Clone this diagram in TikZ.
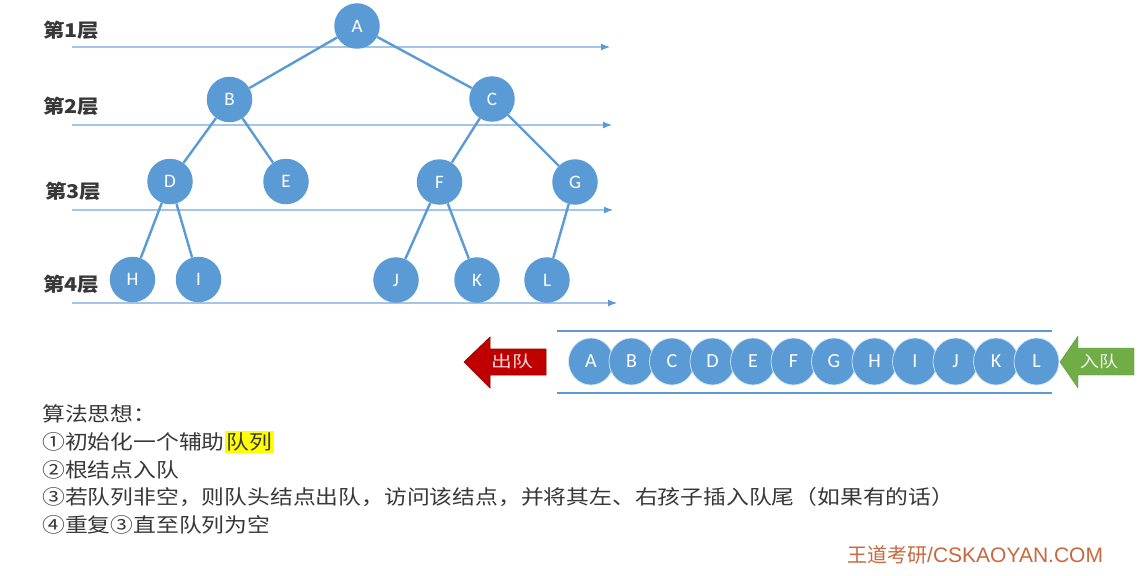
\documentclass[tikz,border=0pt]{standalone}
\usepackage{fontspec}
\usepackage{graphicx}
\usetikzlibrary{arrows.meta,shapes.geometric}
\newfontfamily\cjk{Noto Sans CJK SC}
\newfontfamily\lat{Carlito}
\newfontfamily\ari{Liberation Sans}
\definecolor{nodeblue}{HTML}{5B9BD5}
\definecolor{lineblue}{HTML}{A2C5E8}
\definecolor{txt}{HTML}{383838}
\definecolor{outred}{HTML}{C00000}
\definecolor{outredd}{HTML}{900000}
\definecolor{ingreen}{HTML}{70AD47}
\definecolor{logo}{HTML}{C8683F}
\definecolor{hl}{HTML}{FFFF00}
\tikzset{
  tnode/.style={circle, fill=nodeblue, minimum size=45.5pt, inner sep=0pt, text=white, font=\lat\fontsize{19}{19}\selectfont},
  qnode/.style={ellipse, fill=nodeblue, draw=white!75!nodeblue, line width=0.7pt, minimum width=45pt, minimum height=47pt, inner sep=0pt, text=white, font=\lat\fontsize{20}{20}\selectfont},
  tedge/.style={draw=nodeblue, line width=2.4pt},
  levline/.style={draw=lineblue, line width=1.1pt, -{Latex[length=9pt,width=7pt,color=nodeblue]}},
  lvl/.style={anchor=west, inner sep=0pt, text=txt, font=\cjk\bfseries\fontsize{19}{19}\selectfont},
  body/.style={anchor=west, inner sep=0pt, text=txt, font=\cjk\fontsize{20}{20}\selectfont},
  qline/.style={draw=nodeblue, line width=2.6pt},
  arrtext/.style={inner sep=0pt, font=\cjk\fontsize{16}{16}\selectfont}
}
\begin{document}
\begin{tikzpicture}[x=1pt,y=-1pt]
\useasboundingbox (0,0) rectangle (1139,575);
\fill[white] (0,0) rectangle (1139,575);

% level lines
\foreach \n/\y/\e in {1/47/610, 2/125/612, 3/210/613, 4/303/617}{
  \coordinate (ls\n) at (72,\y);
  \coordinate (le\n) at (\e,\y);
  \draw[levline] (ls\n) -- (le\n);
}

% level labels
\node[lvl] (lab1) at (43,30)  {\scalebox{1.13}[1]{第1层}};
\node[lvl] (lab2) at (43,106) {\scalebox{1.13}[1]{第2层}};
\node[lvl] (lab3) at (45,191) {\scalebox{1.13}[1]{第3层}};
\node[lvl] (lab4) at (43,284) {\scalebox{1.13}[1]{第4层}};

% tree nodes
\node[tnode] (A) at (357,26) {A};
\node[tnode] (B) at (229.5,99.5) {B};
\node[tnode] (C) at (492,99) {C};
\node[tnode] (D) at (170,181.5) {D};
\node[tnode] (E) at (286,181.5) {E};
\node[tnode] (F) at (439.5,182) {F};
\node[tnode] (G) at (575,182) {G};
\node[tnode] (H) at (132.5,279.5) {H};
\node[tnode] (I) at (198.5,279.5) {I};
\node[tnode] (J) at (396,280) {J};
\node[tnode] (K) at (477,280) {K};
\node[tnode] (L) at (547,280) {L};

\draw[tedge] (A) -- (B);
\draw[tedge] (A) -- (C);
\draw[tedge] (B) -- (D);
\draw[tedge] (B) -- (E);
\draw[tedge] (C) -- (F);
\draw[tedge] (C) -- (G);
\draw[tedge] (D) -- (H);
\draw[tedge] (D) -- (I);
\draw[tedge] (F) -- (J);
\draw[tedge] (F) -- (K);
\draw[tedge] (G) -- (L);

% queue
\coordinate (qt1) at (557,331);
\coordinate (qt2) at (1052,331);
\coordinate (qb1) at (557,393);
\coordinate (qb2) at (1052,393);
\draw[qline] (qt1) -- (qt2);
\draw[qline] (qb1) -- (qb2);
\foreach \l [count=\i from 0] in {A,B,C,D,E,F,G,H,I,J,K,L}{
  \node[qnode] (q\l) at ({591+40.5*\i},361.5) {\l};
}

% out arrow (red)
\filldraw[fill=outred, draw=outredd, line width=0.6pt]
  (464,362) -- (490,337) -- (490,349) -- (546,349) -- (546,375) -- (490,375) -- (490,388) -- cycle;
\node[arrtext, text=white!85!red] (outlab) at (512,361) {\scalebox{1.3}[1]{出队}};

% in arrow (green)
\filldraw[fill=ingreen, draw=ingreen!85!black, line width=0.4pt]
  (1060,362) -- (1078,336) -- (1078,348) -- (1134,348) -- (1134,375) -- (1078,375) -- (1078,388) -- cycle;
\node[arrtext, text=white!88!ingreen] (inlab) at (1099,361) {\scalebox{1.2}[1]{入队}};

% algorithm text
\node[body] (t0) at (42,414) {\scalebox{1.14}[1]{算法思想：}};
\node[body] (t1) at (42,442) {\scalebox{1.14}[1]{①初始化一个辅助{\setlength{\fboxsep}{1.5pt}\colorbox{hl}{队列}}}};
\node[body] (t2) at (42,469.5) {\scalebox{1.14}[1]{②根结点入队}};
\node[body] (t3) at (42,497) {\scalebox{1.14}[1]{③若队列非空，则队头结点出队，访问该结点，并将其左、右孩子插入队尾（如果有的话）}};
\node[body] (t4) at (42,524.5) {\scalebox{1.14}[1]{④重复③直至队列为空}};

% logo
\node[anchor=west, inner sep=0pt, text=logo] (logo) at (847,555)
  {{\cjk\fontsize{20}{20}\selectfont 王道考研}{\ari\fontsize{21}{21}\selectfont /CSKAOYAN.COM}};
\end{tikzpicture}
\end{document}
